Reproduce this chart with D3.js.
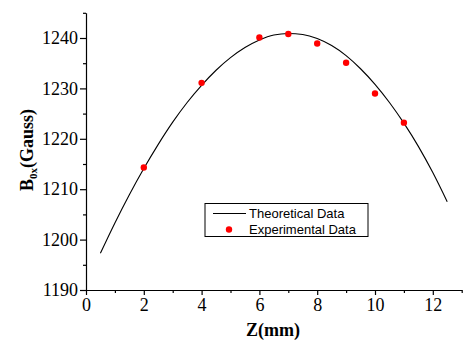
<!DOCTYPE html>
<html><head><meta charset="utf-8">
<script src="https://cdn.jsdelivr.net/npm/d3@7"></script>
<style>body{margin:0;background:#fff}svg{display:block}</style>
</head><body>
<svg id="c" width="463" height="340"></svg>
<script>
const theoZ = [0.5,1,1.5,2,2.5,3,3.5,4,4.5,5,5.5,6,6.5,7,7.5,8,8.5,9,9.5,10,10.5,11,11.5,12,12.5];
const theoB = [1197.3,1203.3,1208.9,1214.1,1218.9,1223.3,1227.2,1230.6,1233.6,1236.1,1238.1,1239.6,1240.6,1240.9,1240.7,1239.9,1238.5,1236.5,1233.9,1230.8,1227.2,1223.1,1218.5,1213.3,1207.5];
const expZ = [2,4,6,7,8,9,10,11];
const expB = [1214.3,1231.1,1240.1,1240.8,1238.9,1235.1,1229.0,1223.2];
const xTicks = [0,2,4,6,8,10,12];
const xMinor = [1,3,5,7,9,11,13];
const yTicks = [1190,1200,1210,1220,1230,1240];
const yMinor = [1195,1205,1215,1225,1235,1245];
const legendLabels = ["Theoretical Data","Experimental Data"];

const svg = d3.select("#c");
const x = d3.scaleLinear().domain([0,13]).range([86,461.7]);
const y = d3.scaleLinear().domain([1190,1245]).range([290,12.8]);
const serif = "'Liberation Serif','Times New Roman',Times,serif";
const sans = "'Liberation Sans',Arial,Helvetica,sans-serif";

function styleAxis(g){
  g.attr("font-family",null).attr("font-size",null);
  g.selectAll("path,line").attr("stroke","#000").attr("stroke-width",1.2);
  g.selectAll("text").style("font-family",serif).style("font-size","18px").attr("fill","#000");
}
// minor ticks
svg.append("g").attr("transform","translate(0,290)")
  .call(d3.axisBottom(x).tickValues(xMinor).tickSize(3).tickFormat("").tickSizeOuter(0))
  .call(g=>{g.select(".domain").remove();styleAxis(g);});
svg.append("g").attr("transform","translate(86,0)")
  .call(d3.axisLeft(y).tickValues(yMinor).tickSize(3).tickFormat("").tickSizeOuter(0))
  .call(g=>{g.select(".domain").remove();styleAxis(g);});
// major ticks
svg.append("g").attr("transform","translate(0,290)")
  .call(d3.axisBottom(x).tickValues(xTicks).tickSize(5).tickPadding(3).tickSizeOuter(0).tickFormat(d3.format("d")))
  .call(styleAxis);
svg.append("g").attr("transform","translate(86,0)")
  .call(d3.axisLeft(y).tickValues(yTicks).tickSize(6).tickPadding(2).tickSizeOuter(0).tickFormat(d3.format("d")))
  .call(styleAxis);

// theoretical curve
const line = d3.line().x((d,i)=>x(theoZ[i])).y(d=>y(d)).curve(d3.curveMonotoneX);
svg.append("path").datum(theoB).attr("d",line).attr("fill","none").attr("stroke","#000").attr("stroke-width",1.1);

// experimental points
svg.append("g").selectAll("circle").data(expB).join("circle")
  .attr("cx",(d,i)=>x(expZ[i])).attr("cy",d=>y(d)).attr("r",3.2).attr("fill","#ff0000");

// axis titles
svg.append("text").attr("x",273).attr("y",336).attr("text-anchor","middle")
  .style("font-family",serif).attr("font-weight","bold").style("font-size","18px").text("Z(mm)");
const yl = svg.append("text").attr("transform","translate(33,150) rotate(-90)").attr("text-anchor","middle")
  .style("font-family",serif).attr("font-weight","bold").style("font-size","18px");
yl.append("tspan").text("B");
yl.append("tspan").style("font-size","11px").attr("dy",4).text("0x");
yl.append("tspan").attr("dy",-4).text("(Gauss)");

// legend
const lg = svg.append("g");
lg.append("rect").attr("x",205).attr("y",203.5).attr("width",163).attr("height",33)
  .attr("fill","#fff").attr("stroke","#000").attr("stroke-width",1);
lg.append("line").attr("x1",213).attr("x2",246).attr("y1",213.5).attr("y2",213.5).attr("stroke","#000").attr("stroke-width",1.1);
lg.append("circle").attr("cx",229).attr("cy",229.5).attr("r",3.2).attr("fill","#ff0000");
lg.selectAll("text.l").data(legendLabels).join("text").attr("class","l")
  .attr("x",249).attr("y",(d,i)=>218+i*15.5).style("font-family",sans).style("font-size","13px").text(d=>d);
</script>
</body></html>
